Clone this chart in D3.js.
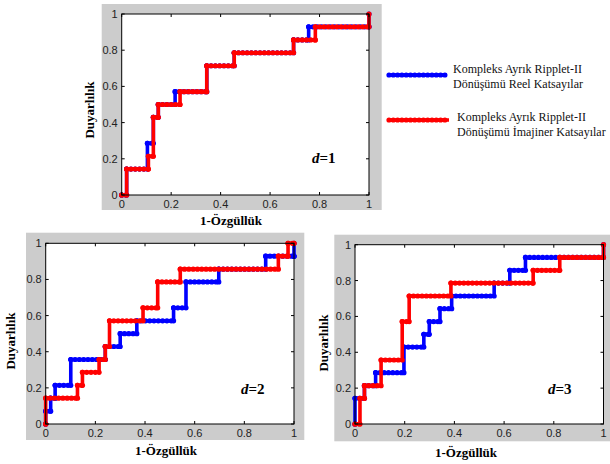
<!DOCTYPE html>
<html>
<head>
<meta charset="utf-8">
<script src="https://cdn.jsdelivr.net/npm/d3@7"></script>
<style>
body{margin:0;background:#fff;}
svg text{font-family:"Liberation Sans",Arial,sans-serif;}
</style>
</head>
<body>
<div id="chart"></div>
<script>
// tick values / labels shared by every panel
var tickVals = [0, 0.2, 0.4, 0.6, 0.8, 1];
var tickLabels = ["0", "0.2", "0.4", "0.6", "0.8", "1"];

// ROC steps: at fpr[i] the curve jumps up to tpr[i]
var d1RealFpr = [0, 0.02, 0.104, 0.128, 0.148, 0.216, 0.344, 0.455, 0.695, 0.756, 1];
var d1RealTpr = [0, 0.143, 0.286, 0.429, 0.5, 0.571, 0.714, 0.786, 0.857, 0.929, 1];
var d1ImagFpr = [0, 0.02, 0.108, 0.128, 0.148, 0.236, 0.344, 0.455, 0.695, 0.783, 1];
var d1ImagTpr = [0, 0.143, 0.214, 0.429, 0.5, 0.571, 0.714, 0.786, 0.857, 0.929, 1];

var d2RealFpr = [0, 0, 0.02, 0.038, 0.101, 0.24, 0.3, 0.367, 0.515, 0.565, 0.697, 0.886, 1, 1];
var d2RealTpr = [0, 0.071, 0.143, 0.214, 0.357, 0.429, 0.5, 0.571, 0.643, 0.786, 0.857, 0.929, 0.929, 1];
var d2ImagFpr = [0, 0, 0.128, 0.148, 0.215, 0.24, 0.257, 0.392, 0.451, 0.542, 0.937, 0.976, 1];
var d2ImagTpr = [0, 0.143, 0.214, 0.286, 0.357, 0.429, 0.571, 0.643, 0.786, 0.857, 0.929, 1, 1];

var d3RealFpr = [0, 0, 0.038, 0.083, 0.197, 0.277, 0.299, 0.342, 0.389, 0.56, 0.623, 0.686, 1];
var d3RealTpr = [0, 0.143, 0.214, 0.286, 0.429, 0.5, 0.571, 0.643, 0.714, 0.786, 0.857, 0.929, 1];
var d3ImagFpr = [0, 0.02, 0.038, 0.105, 0.19, 0.218, 0.386, 0.717, 0.824, 1];
var d3ImagTpr = [0, 0.143, 0.214, 0.357, 0.571, 0.714, 0.786, 0.857, 0.929, 1];

var legendLabels = [
    ["Kompleks Ayrık Ripplet-II", "Dönüşümü Reel Katsayılar"],
    ["Kompleks Ayrık Ripplet-II", "Dönüşümü İmajiner Katsayılar"]
];
var xTitle = "1-Özgüllük", yTitle = "Duyarlılık";
var blue = "#0000ff", red = "#ff0000";

var svg = d3.select("#chart").append("svg").attr("width", 610).attr("height", 464);

var drawCurve = function(g, x, y, fpr, tpr, color){
    var pts = fpr.map(function(d,i){ return [d, tpr[i]]; });
    var line = d3.line().x(function(d){ return x(d[0]); }).y(function(d){ return y(d[1]); }).curve(d3.curveStepAfter);
    g.append("path").attr("d", line(pts)).attr("fill","none").attr("stroke",color)
        .attr("stroke-width",3.6).attr("stroke-linejoin","miter");
    // beads along flat parts
    for (var i = 0; i < pts.length - 1; i++) {
        if (pts[i+1][0] - pts[i][0] <= 0) continue;
        g.append("line").attr("x1",x(pts[i][0])).attr("x2",x(pts[i+1][0]))
            .attr("y1",y(pts[i][1])).attr("y2",y(pts[i][1]))
            .attr("stroke",color).attr("stroke-width",5.2).attr("stroke-linecap","round")
            .attr("stroke-dasharray","0 4.3");
    }
    // corner markers
    var corners = [];
    pts.forEach(function(d,i){
        if (i > 0) corners.push([d[0], pts[i-1][1]]);
        corners.push(d);
    });
    g.selectAll(null).data(corners).enter().append("circle")
        .attr("cx",function(d){ return x(d[0]); }).attr("cy",function(d){ return y(d[1]); })
        .attr("r",2.6).attr("fill",color);
};

var drawPanel = function(p){
    svg.append("rect").attr("x",p.fx).attr("y",p.fy).attr("width",p.fw).attr("height",p.fh).attr("fill","#cccccc");
    var x = d3.scaleLinear().domain([0,1]).range([p.l, p.r]);
    var y = d3.scaleLinear().domain([0,1]).range([p.b, p.t]);
    svg.append("rect").attr("x",p.l).attr("y",p.t).attr("width",p.r-p.l).attr("height",p.b-p.t).attr("fill","#fff");

    var g = svg.append("g");
    drawCurve(g, x, y, p.realFpr, p.realTpr, blue);
    drawCurve(g, x, y, p.imagFpr, p.imagTpr, red);

    // box and inward ticks on all sides
    var ax = svg.append("g");
    ax.append("rect").attr("x",p.l).attr("y",p.t).attr("width",p.r-p.l).attr("height",p.b-p.t)
        .attr("fill","none").attr("stroke","#000").attr("stroke-width",1);
    tickVals.forEach(function(v,i){
        ax.append("line").attr("x1",x(v)).attr("x2",x(v)).attr("y1",p.b).attr("y2",p.b-3).attr("stroke","#000");
        ax.append("line").attr("x1",x(v)).attr("x2",x(v)).attr("y1",p.t).attr("y2",p.t+3).attr("stroke","#000");
        ax.append("line").attr("x1",p.l).attr("x2",p.l+3).attr("y1",y(v)).attr("y2",y(v)).attr("stroke","#000");
        ax.append("line").attr("x1",p.r).attr("x2",p.r-3).attr("y1",y(v)).attr("y2",y(v)).attr("stroke","#000");
        ax.append("text").attr("x",x(v)).attr("y",p.b+13).attr("text-anchor","middle")
            .attr("font-size",11).attr("fill","#222").text(tickLabels[i]);
        ax.append("text").attr("x",p.l-4).attr("y",y(v)+4).attr("text-anchor","end")
            .attr("font-size",11).attr("fill","#222").text(tickLabels[i]);
    });

    svg.append("text").attr("x",p.xtx).attr("y",p.xty).attr("text-anchor","middle")
        .style("font-family","'Liberation Serif','Times New Roman',serif").attr("font-weight","bold")
        .attr("font-size",13).text(xTitle);
    svg.append("text").attr("transform","translate(" + p.ytx + "," + p.yty + ") rotate(-90)")
        .attr("text-anchor","middle").attr("dy","0.35em")
        .style("font-family","'Liberation Serif','Times New Roman',serif").attr("font-weight","bold")
        .attr("font-size",13).text(yTitle);

    var lab = svg.append("text").attr("x",p.dx).attr("y",p.dy)
        .style("font-family","'Liberation Serif','Times New Roman',serif").attr("font-weight","bold")
        .attr("font-size",15);
    lab.append("tspan").attr("font-style","italic").text("d");
    lab.append("tspan").text("=" + p.d);
};

drawPanel({fx:101.7, fy:4, fw:280, fh:206, l:121.7, r:369, t:14, b:195,
    realFpr:d1RealFpr, realTpr:d1RealTpr, imagFpr:d1ImagFpr, imagTpr:d1ImagTpr,
    xtx:231, xty:225, ytx:89, yty:110, dx:312, dy:163, d:1});
drawPanel({fx:26, fy:232.7, fw:278.3, fh:207.3, l:45.7, r:294, t:243.3, b:424,
    realFpr:d2RealFpr, realTpr:d2RealTpr, imagFpr:d2ImagFpr, imagTpr:d2ImagTpr,
    xtx:166, xty:455, ytx:10, yty:341, dx:241, dy:394, d:2});
drawPanel({fx:334.3, fy:234.7, fw:276, fh:206.6, l:355, r:603.5, t:244.7, b:424,
    realFpr:d3RealFpr, realTpr:d3RealTpr, imagFpr:d3ImagFpr, imagTpr:d3ImagTpr,
    xtx:466, xty:457, ytx:323, yty:343, dx:548, dy:394, d:3});

// legend
var leg = svg.append("g");
[[blue, 75, 447, 453, 73], [red, 120, 449, 457, 121]].forEach(function(d,i){
    leg.append("line").attr("x1",389).attr("x2",d[2]).attr("y1",d[1]).attr("y2",d[1])
        .attr("stroke",d[0]).attr("stroke-width",3.6);
    leg.append("line").attr("x1",389).attr("x2",d[2]).attr("y1",d[1]).attr("y2",d[1])
        .attr("stroke",d[0]).attr("stroke-width",5.2).attr("stroke-linecap","round").attr("stroke-dasharray","0 4.3");
    legendLabels[i].forEach(function(t,j){
        leg.append("text").attr("x",d[3]).attr("y",d[4] + j*14.5)
            .style("font-family","'Liberation Serif','Times New Roman',serif").attr("font-size",12)
            .attr("fill","#111").text(t);
    });
});
</script>
</body>
</html>
